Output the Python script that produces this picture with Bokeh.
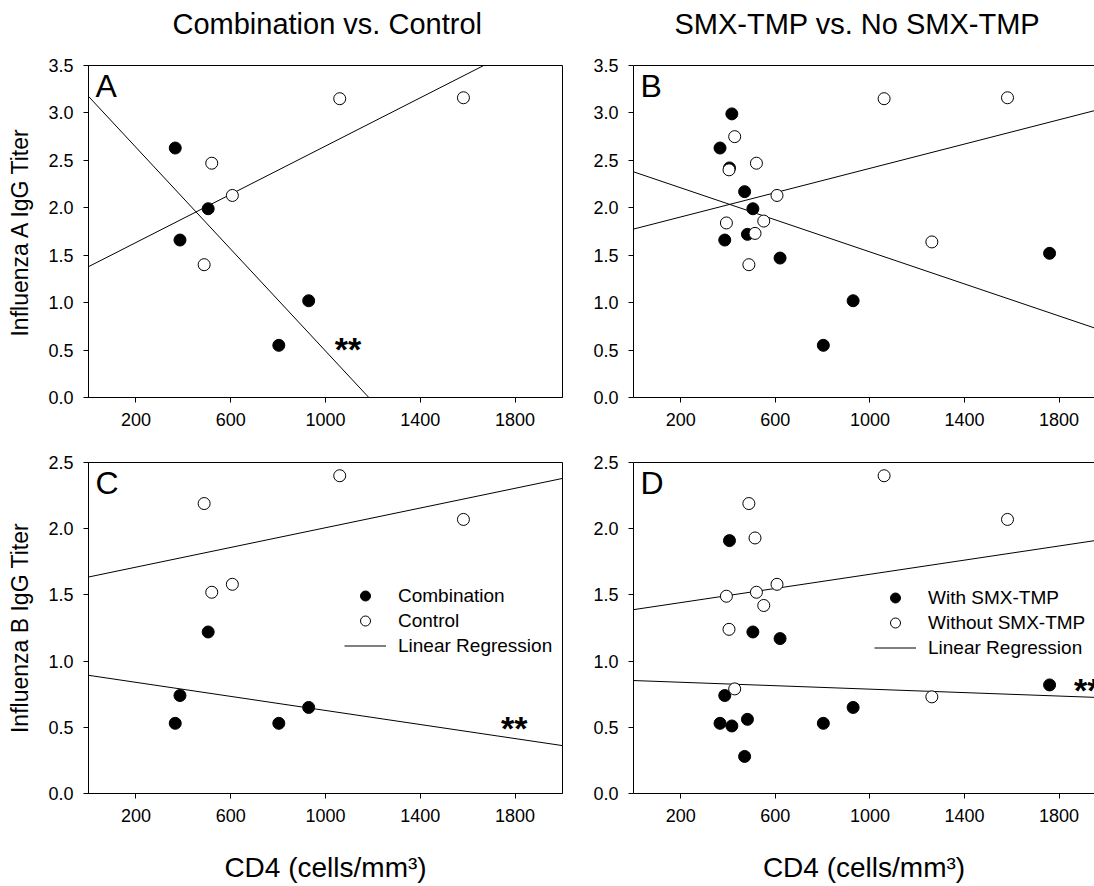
import numpy as np
from bokeh.plotting import figure
from bokeh.layouts import column, row
from bokeh.models import (FixedTicker, NumeralTickFormatter, Label, Legend,
                          LegendItem, LinearAxis, Range1d, Title)
from bokeh.embed import file_html
from bokeh.resources import INLINE

FONT = "Liberation Sans"

# ---------------- data ----------------
# Left column: Combination (filled) vs Control (open)
comb_cd4 = [366, 386, 505, 803, 929]
comb_fluA = [2.63, 1.66, 1.99, 0.55, 1.02]
comb_fluB = [0.53, 0.74, 1.22, 0.53, 0.65]
ctrl_cd4 = [488, 520, 607, 1060, 1582]
ctrl_fluA = [1.40, 2.47, 2.13, 3.15, 3.16]
ctrl_fluB = [2.19, 1.52, 1.58, 2.40, 2.07]

# Right column: With SMX-TMP (filled) vs Without SMX-TMP (open)
smx_cd4 = [366, 386, 406, 416, 470, 482, 505, 620, 803, 929, 1760]
smx_fluA = [2.63, 1.66, 2.42, 2.99, 2.17, 1.72, 1.99, 1.47, 0.55, 1.02, 1.52]
smx_fluB = [0.53, 0.74, 1.91, 0.51, 0.28, 0.56, 1.22, 1.17, 0.53, 0.65, 0.82]
nosmx_cd4 = [393, 404, 428, 488, 514, 520, 551, 607, 1060, 1262, 1582]
nosmx_fluA = [1.84, 2.40, 2.75, 1.40, 1.73, 2.47, 1.86, 2.13, 3.15, 1.64, 3.16]
nosmx_fluB = [1.49, 1.24, 0.79, 2.19, 1.93, 1.52, 1.42, 1.58, 2.40, 0.73, 2.07]

x_ticks = [200, 600, 1000, 1400, 1800]
yA_ticks = [0.0, 0.5, 1.0, 1.5, 2.0, 2.5, 3.0, 3.5]
yB_ticks = [0.0, 0.5, 1.0, 1.5, 2.0, 2.5]

col_titles = ["Combination vs. Control", "SMX-TMP vs. No SMX-TMP"]
panel_letters = ["A", "B", "C", "D"]
y_titles = ["Influenza A IgG Titer", "Influenza B IgG Titer"]
x_title = "CD4 (cells/mm\u00b3)"
legend_left = ["Combination", "Control", "Linear Regression"]
legend_right = ["With SMX-TMP", "Without SMX-TMP", "Linear Regression"]

# significance markers "**": panel, x, y
sig_panel = ["A", "C", "D"]
sig_x = [1095, 1796, 1863]
sig_y = [0.57, 0.54, 0.83]
sig_align = ["center", "center", "left"]

# ---------------- layout constants ----------------
X_END_FULL = 2000
X_END_CUT = 1950
TOP_H = 440
BOT_H = 446
LEFT_W = 590
RIGHT_W = 504


def style_axis(ax, font_size="18px"):
    ax.axis_line_color = "black"
    ax.axis_line_width = 1
    ax.major_tick_line_color = "black"
    ax.major_tick_line_width = 1
    ax.major_tick_in = 0
    ax.major_tick_out = 5
    ax.minor_tick_line_color = None
    ax.major_label_text_font = FONT
    ax.major_label_text_font_size = font_size
    ax.major_label_text_color = "black"
    ax.major_label_standoff = 10
    ax.axis_label_text_font = FONT
    ax.axis_label_text_font_style = "normal"
    ax.axis_label_text_color = "black"


def make_panel(width, height, x_end, y_end, y_ticks, b_left, b_right, b_top,
               b_bottom, full_box, title=None, title_offset=0):
    p = figure(width=width, height=height,
               x_range=Range1d(0, x_end), y_range=Range1d(0, y_end),
               output_backend="svg", toolbar_location=None,
               min_border_left=b_left, min_border_right=b_right,
               min_border_top=b_top, min_border_bottom=b_bottom,
               background_fill_color="white", border_fill_color="white")
    p.grid.visible = False
    bottom_axis = p.below[0]
    left_axis = p.left[0]
    style_axis(bottom_axis)
    style_axis(left_axis)
    bottom_axis.ticker = FixedTicker(ticks=x_ticks)
    left_axis.ticker = FixedTicker(ticks=y_ticks)
    left_axis.formatter = NumeralTickFormatter(format="0.0")
    if full_box:
        p.outline_line_color = "black"
        p.outline_line_width = 1
        p.outline_line_alpha = 1
    else:
        p.outline_line_color = None
        top = LinearAxis(ticker=FixedTicker(ticks=[]), major_tick_in=0,
                         major_tick_out=0, minor_tick_in=0, minor_tick_out=0,
                         major_label_text_font_size="0px", axis_label=None,
                         axis_line_color="black", axis_line_width=1)
        p.add_layout(top, "above")
    if title is not None:
        # empty spacer between the frame and the column title
        p.add_layout(Title(text=" ", text_font=FONT, text_font_size="20px",
                           standoff=0), "above")
        p.add_layout(Title(text=title, text_font=FONT, text_font_size="29px",
                           text_font_style="normal", text_color="black",
                           align="left", vertical_align="top",
                           offset=title_offset, standoff=0), "above")
    return p, bottom_axis, left_axis


def add_data(p, fx, fy, ox, oy, x_end):
    xs = [0, x_end]
    lines = []
    for gx, gy in ((fx, fy), (ox, oy)):
        k, b = np.polyfit(np.array(gx, float), np.array(gy, float), 1)
        lines.append(p.line(xs, [b + k * xs[0], b + k * xs[1]],
                            line_color="black", line_width=1))
    rf = p.scatter(fx, fy, size=12, fill_color="black", line_color="black",
                   line_width=1)
    ro = p.scatter(ox, oy, size=12, fill_color="white", line_color="black",
                   line_width=1)
    return rf, ro, lines[0]


def add_letter(p, letter, y_end):
    p.add_layout(Label(x=0, y=y_end, x_offset=7, y_offset=-2, text=letter,
                       text_font=FONT, text_font_size="32px",
                       text_baseline="top", text_align="left",
                       text_color="black"))


def add_sig(p, letter):
    for pn, sx, sy, al in zip(sig_panel, sig_x, sig_y, sig_align):
        if pn == letter:
            p.add_layout(Label(x=sx, y=sy, y_offset=-6, text="**",
                               text_font=FONT, text_font_size="34px",
                               text_font_style="bold", text_align=al,
                               text_baseline="middle", text_color="black"))


def add_legend(p, labels, rf, ro, rl, loc):
    items = [LegendItem(label=labels[0], renderers=[rf]),
             LegendItem(label=labels[1], renderers=[ro]),
             LegendItem(label=labels[2], renderers=[rl])]
    lg = Legend(items=items, location=loc, background_fill_alpha=0,
                border_line_alpha=0, padding=0, margin=0, spacing=0,
                glyph_width=42, glyph_height=25, label_height=25,
                label_standoff=12, label_text_font=FONT,
                label_text_font_size="19px", label_text_color="black",
                label_text_baseline="middle")
    p.add_layout(lg)


# Panel A
pA, bxA, lyA = make_panel(LEFT_W, TOP_H, X_END_FULL, yA_ticks[-1], yA_ticks,
                          88, 28, 65, 43, True, col_titles[0], 84)
lyA.axis_label = y_titles[0]
lyA.axis_label_text_font_size = "23px"
lyA.axis_label_standoff = 12
add_data(pA, comb_cd4, comb_fluA, ctrl_cd4, ctrl_fluA, X_END_FULL)
add_letter(pA, panel_letters[0], yA_ticks[-1])
add_sig(pA, "A")

# Panel B
pB, bxB, lyB = make_panel(RIGHT_W, TOP_H, X_END_CUT, yA_ticks[-1], yA_ticks,
                          40, 0, 65, 43, False, col_titles[1], 41)
add_data(pB, smx_cd4, smx_fluA, nosmx_cd4, nosmx_fluA, X_END_CUT)
add_letter(pB, panel_letters[1], yA_ticks[-1])

# Panel C
pC, bxC, lyC = make_panel(LEFT_W, BOT_H, X_END_FULL, yB_ticks[-1], yB_ticks,
                          88, 28, 22, 93, True)
lyC.axis_label = y_titles[1]
lyC.axis_label_text_font_size = "23px"
lyC.axis_label_standoff = 12
bxC.axis_label = x_title
bxC.axis_label_text_font_size = "28px"
bxC.axis_label_standoff = 27
rf, ro, rl = add_data(pC, comb_cd4, comb_fluB, ctrl_cd4, ctrl_fluB, X_END_FULL)
add_legend(pC, legend_left, rf, ro, rl, (256, 135))
add_letter(pC, panel_letters[2], yB_ticks[-1])
add_sig(pC, "C")

# Panel D
pD, bxD, lyD = make_panel(RIGHT_W, BOT_H, X_END_CUT, yB_ticks[-1], yB_ticks,
                          40, 0, 22, 93, False)
bxD.axis_label = x_title
bxD.axis_label_text_font_size = "28px"
bxD.axis_label_standoff = 27
rf, ro, rl = add_data(pD, smx_cd4, smx_fluB, nosmx_cd4, nosmx_fluB, X_END_CUT)
add_legend(pD, legend_right, rf, ro, rl, (241, 133))
add_letter(pD, panel_letters[3], yB_ticks[-1])
add_sig(pD, "D")

layout = column(row(pA, pB, spacing=0), row(pC, pD, spacing=0), spacing=0)

with open("out.html", "w") as f:
    f.write(file_html(layout, INLINE, title="Influenza IgG titer vs CD4"))
